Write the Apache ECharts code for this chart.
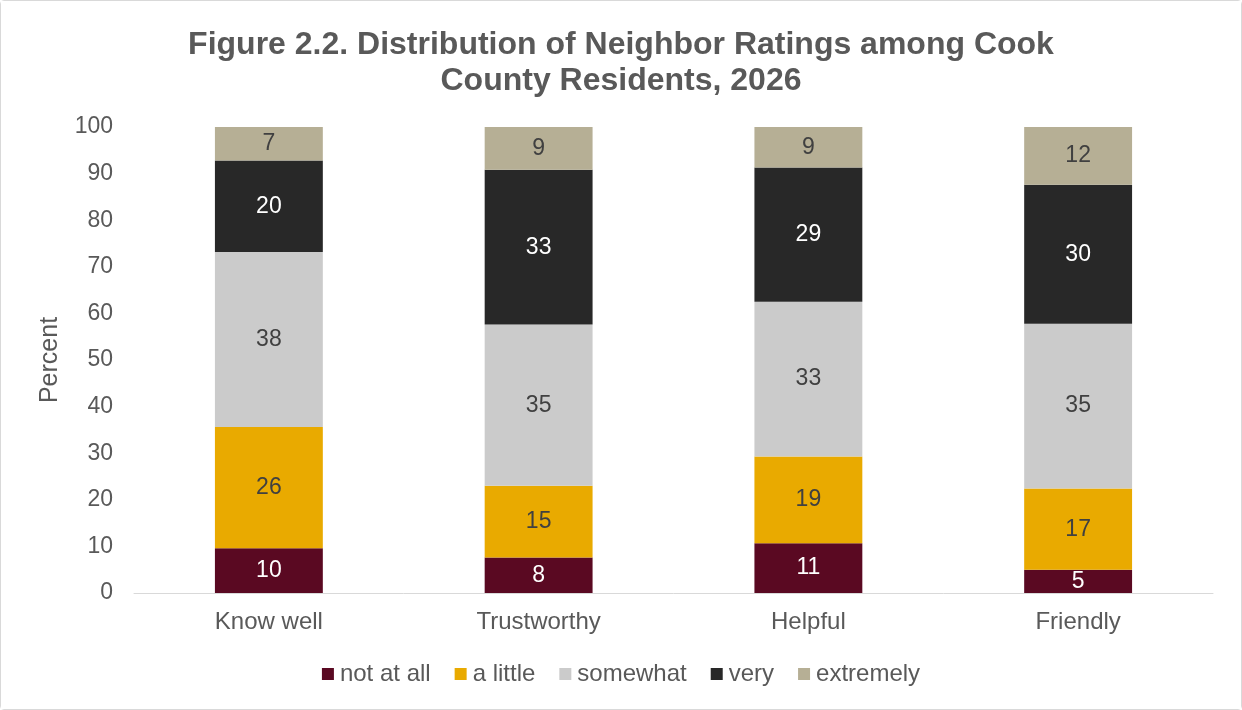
<!DOCTYPE html>
<html>
<head>
<meta charset="utf-8">
<script src="https://cdn.jsdelivr.net/npm/echarts@6/dist/echarts.min.js"></script>
<style>
  html, body { margin: 0; padding: 0; background: #ffffff; }
  #chart { width: 1242px; height: 710px; box-sizing: border-box; border: 1px solid #d9d9d9; border-radius: 4px; }
</style>
</head>
<body>
<div id="chart"></div>
<script>
// Neighbor rating shares (percent) by question
const categories = ['Know well', 'Trustworthy', 'Helpful', 'Friendly'];
const notAtAll  = [9.6, 7.6, 10.7, 5.0];
const aLittle   = [26.0, 15.4, 18.6, 17.4];
const somewhat  = [37.6, 34.6, 33.2, 35.4];
const very      = [19.6, 33.2, 28.8, 29.8];
const extremely = [7.2, 9.2, 8.7, 12.4];
const yTicks = [0, 10, 20, 30, 40, 50, 60, 70, 80, 90, 100];

const FONT = '"Liberation Sans", Arial, sans-serif';
const TEXT = '#595959';

function segment(name, data, color, labelColor) {
  return {
    name: name,
    type: 'bar',
    stack: 'total',
    data: data,
    barWidth: '40%',
    itemStyle: { color: color },
    label: {
      show: true,
      position: 'inside',
      color: labelColor,
      fontFamily: FONT,
      fontSize: 23,
      formatter: p => String(Math.round(p.value))
    },
    emphasis: { disabled: true }
  };
}

const chart = echarts.init(document.getElementById('chart'), null, { renderer: 'canvas' });
chart.setOption({
  animation: false,
  backgroundColor: '#ffffff',
  title: {
    text: 'Figure 2.2. Distribution of Neighbor Ratings among Cook\nCounty Residents, 2026',
    left: 'center',
    top: 21,
    textStyle: {
      fontFamily: FONT,
      fontWeight: 'bold',
      fontSize: 32,
      lineHeight: 36,
      color: TEXT
    }
  },
  legend: {
    top: 656,
    left: 'center',
    itemWidth: 12,
    itemHeight: 12,
    itemGap: 24,
    icon: 'rect',
    textStyle: { fontFamily: FONT, fontSize: 24, color: TEXT, padding: [0, 0, 0, 1] },
    data: ['not at all', 'a little', 'somewhat', 'very', 'extremely']
  },
  grid: { left: 133, right: 28, top: 126, bottom: 116 },
  xAxis: {
    type: 'category',
    data: categories,
    axisLine: { lineStyle: { color: '#d9d9d9', width: 1 } },
    axisTick: { show: false },
    axisLabel: { fontFamily: FONT, fontSize: 24, color: TEXT, margin: 17 }
  },
  yAxis: {
    type: 'value',
    min: yTicks[0],
    max: yTicks[yTicks.length - 1],
    interval: 10,
    name: 'Percent',
    nameLocation: 'middle',
    nameGap: 71,
    nameTextStyle: { fontFamily: FONT, fontSize: 25, color: TEXT },
    axisLine: { show: false },
    axisTick: { show: false },
    splitLine: { show: false },
    axisLabel: { fontFamily: FONT, fontSize: 23, color: TEXT, margin: 21 }
  },
  series: [
    segment('not at all', notAtAll, '#5a0922', '#ffffff'),
    segment('a little', aLittle, '#e9aa00', '#404040'),
    segment('somewhat', somewhat, '#cbcbcb', '#404040'),
    segment('very', very, '#282828', '#ffffff'),
    segment('extremely', extremely, '#b6af95', '#404040')
  ]
});
</script>
</body>
</html>
